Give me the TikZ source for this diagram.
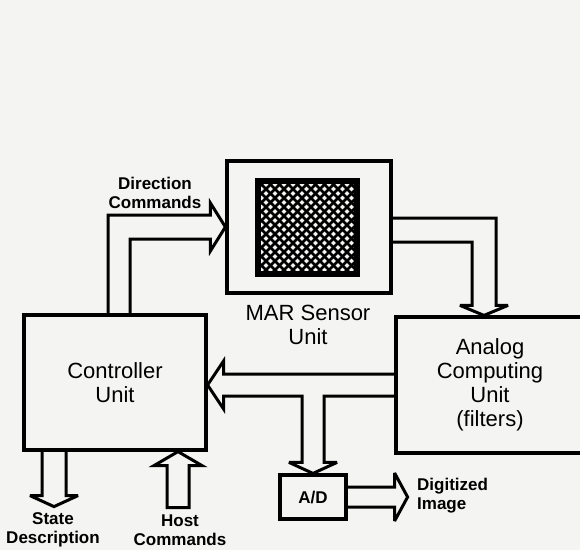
\documentclass[tikz,border=0pt]{standalone}
\usepackage{fontspec}
\setmainfont{Liberation Sans}
\usetikzlibrary{calc}
\definecolor{paper}{RGB}{244,244,242}
\begin{document}
\begin{tikzpicture}[x=1pt,y=-1pt,
  box/.style={draw=black, line width=3.2pt, inner sep=0pt},
  lab/.style={font=\fontsize{22}{24}\selectfont, align=center, inner sep=0pt},
  blab/.style={font=\bfseries\fontsize{17}{19}\selectfont, align=center, inner sep=0pt},
  fat/.style={draw=black, line width=3pt, line join=miter, miter limit=4},
  hatch/.style={draw=black, line width=2.6pt}
]
\path[use as bounding box, fill=paper] (0,0) rectangle (580,550);
\clip (0,0) rectangle (580,550);

% boxes
\node[box, minimum width=164pt, minimum height=132pt] (mar) at (309,227) {};
\node[box, line width=4pt, minimum width=97pt, minimum height=91pt] (grid) at (307.5,227.5) {};
\begin{scope}
  \clip (grid.north west) rectangle (grid.south east);
  \foreach \i in {-14,...,26} {
    \draw[hatch] ($(grid.north west)+(9*\i,0)$) -- ++(120,120);
    \draw[hatch] ($(grid.north west)+(9*\i,0)$) -- ++(-120,120);
  }
\end{scope}
\draw[line width=4pt] (grid.north west) rectangle (grid.south east);

\node[box, lab, minimum width=182pt, minimum height=135pt] (ctrl) at (115,382.5) {Controller\\Unit};
\node[box, lab, minimum width=188pt, minimum height=136pt] (ana) at (490,385) {Analog\\Computing\\Unit\\(filters)};
\node[box, blab, minimum width=66pt, minimum height=44pt] (ad) at (313,497) {A/D};

% labels
\node[lab, anchor=north] (marlab) at (308,305) {MAR Sensor\\Unit};
\node[blab, anchor=north] (dirlab) at (155,177) {Direction\\Commands};
\node[blab, anchor=north] (statelab) at (53,512) {State\\Description};
\node[blab, anchor=north] (hostlab) at (180,515) {Host\\Commands};
\node[blab, align=left, anchor=north west] (diglab) at (417,478) {Digitized\\Image};

% direction commands: controller -> MAR
\draw[fat] ($(ctrl.north)+(-7,0)$) |- ($(mar.west)+(-15,-12)$) -- ++(0,-12) -- (mar.west)
  -- ++(-15,24) -- ++(0,-12) -| ($(ctrl.north)+(15,0)$);

% MAR -> analog
\coordinate (anatip) at ($(ana.north)+(-6,0)$);
\draw[fat] ($(mar.east)+(0,-9)$) -| ($(anatip)+(12,-10)$) -- ++(12,0) -- (anatip)
  -- ++(-24,-10) -- ++(12,0) |- ($(mar.east)+(0,15)$);

% analog -> controller, with branch to A/D
\coordinate (ctip) at (ana.west -| ctrl.east);
\draw[fat] ($(ana.west)+(0,-11)$) -- ($(ctip)+(16,-11)$) -- ++(0,-13) -- (ctip)
  -- ++(16,24) -- ++(0,-13) -| ($(ad.north)+(-11,-11)$) -- ++(-13,0) -- (ad.north)
  -- ++(24,-11) -- ++(-13,0) |- ($(ana.west)+(0,11)$);

% A/D -> digitized image
\coordinate (dtip) at ($(ad.east)+(60,0)$);
\draw[fat] ($(ad.east)+(0,-10)$) -- ++(47,0) -- ++(0,-14) -- (dtip)
  -- ++(-13,24) -- ++(0,-14) -- ($(ad.east)+(0,10)$);

% state description
\coordinate (stip) at ($(ctrl.south)+(-61,55)$);
\draw[fat] ($(ctrl.south)+(-73,0)$) -- ($(stip)+(-12,-11)$) -- ++(-12,0) -- (stip)
  -- ++(24,-11) -- ++(-12,0) -- ($(ctrl.south)+(-49,0)$);

% host commands
\draw[fat] ($(ctrl.south)+(63,0)$) -- ++(24,14) -- ++(-13,0) -- ++(0,42) -- ++(-22,0)
  -- ++(0,-42) -- ++(-13,0) -- cycle;
\end{tikzpicture}
\end{document}
